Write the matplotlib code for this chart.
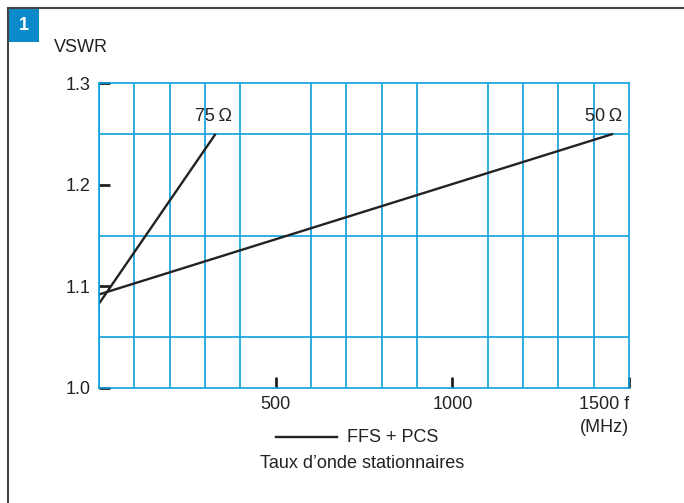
import matplotlib.pyplot as plt
import numpy as np

# VSWR vs frequency for the two cable impedances
freq_75 = [0, 330]
vswr_75 = [1.083, 1.25]
freq_50 = [0, 1455]
vswr_50 = [1.092, 1.25]

x_ticks = [500, 1000, 1500]
x_tick_labels = ["500", "1000", "1500 f"]
y_ticks = [1.0, 1.1, 1.2, 1.3]
y_tick_labels = ["1.0", "1.1", "1.2", "1.3"]

W, H = 684, 503
BLUE = "#0a9fdc"
INK = "#222222"

plt.rcParams["font.family"] = ["Liberation Sans", "DejaVu Sans"]

fig = plt.figure(figsize=(W / 100, H / 100), dpi=100)


def fx(px):
    return px / W


def fy(py):
    return 1 - py / H


ax = fig.add_axes([fx(99), fy(388), fx(629) - fx(99), fy(83) - fy(388)])

ax.plot(freq_75, vswr_75, color=INK, lw=1.7, solid_capstyle="butt")
ax.plot(freq_50, vswr_50, color=INK, lw=1.7, solid_capstyle="butt")
ax.text(323, 1.267, "75\u2009Ω", ha="center", va="center", fontsize=13, color=INK)
ax.text(1429, 1.267, "50\u2009Ω", ha="center", va="center", fontsize=13, color=INK)

ax.set_xlim(0, 1500)
ax.set_ylim(1.0, 1.3)
ax.set_xticks(np.arange(0, 1501, 100), minor=True)
ax.set_yticks(np.arange(1.0, 1.301, 0.05), minor=True)
ax.grid(which="minor", color=BLUE, lw=1.2)
ax.set_xticks(x_ticks, x_tick_labels)
ax.set_yticks(y_ticks, y_tick_labels)
ax.tick_params(which="minor", length=0)
ax.tick_params(which="major", direction="in", length=8, width=2, color=INK,
               labelsize=13, labelcolor=INK)
ax.tick_params(axis="y", pad=6)
ax.tick_params(axis="x", pad=6)
ax.xaxis.get_ticklabels()[-1].set_ha("right")
for s in ax.spines.values():
    s.set_color(BLUE)
    s.set_linewidth(1.2)

# frame and number badge
fig.add_artist(plt.Line2D([fx(8), 1], [fy(8), fy(8)], color="#444444", lw=1.5))
fig.add_artist(plt.Line2D([fx(8), fx(8)], [fy(8), 0], color="#444444", lw=1.5))
fig.add_artist(plt.Rectangle((fx(8), fy(42)), fx(31), fy(8) - fy(42),
                             color="#0a8acb", lw=0))
fig.text(fx(23.5), fy(25), "1", ha="center", va="center", fontsize=13,
         fontweight="bold", color="white")

fig.text(fx(54), fy(47), "VSWR", ha="left", va="center", fontsize=13, color=INK)
fig.text(fx(629), fy(428), "(MHz)", ha="right", va="center", fontsize=13, color=INK)

# legend and caption
fig.add_artist(plt.Line2D([fx(276), fx(337)], [fy(437), fy(437)], color=INK, lw=1.7))
fig.text(fx(347), fy(437), "FFS + PCS", ha="left", va="center", fontsize=13, color=INK)
fig.text(fx(362), fy(464), "Taux d’onde stationnaires", ha="center", va="center",
         fontsize=13, color=INK)

fig.savefig("out.png", dpi=100)
